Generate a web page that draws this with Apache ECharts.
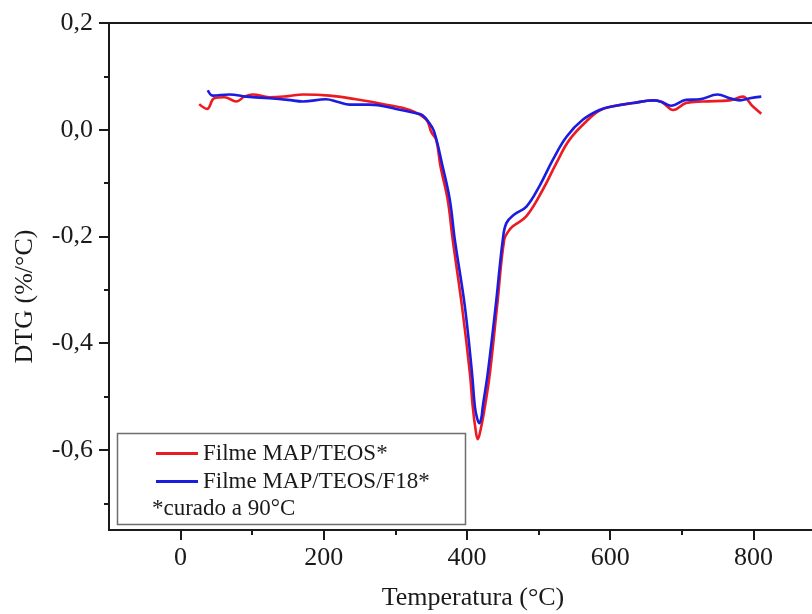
<!DOCTYPE html>
<html>
<head>
<meta charset="utf-8">
<script src="https://cdn.jsdelivr.net/npm/echarts@6/dist/echarts.min.js"></script>
<style>html,body{margin:0;padding:0;background:#fff;}#c{width:812px;height:614px;}</style>
</head>
<body>
<div id="c"></div>
<script>
// ---- data ----
const redName = 'Filme MAP/TEOS*';
const blueName = 'Filme MAP/TEOS/F18*';
const noteText = '*curado a 90°C';

const redX = [26, 37, 47, 61, 78, 89, 101, 124, 150, 171, 208, 245, 287, 320, 343, 350, 357, 363, 373, 380, 393, 404, 408, 412, 415, 419, 425, 432, 442, 452, 458, 464, 483, 506, 525, 543, 567, 585, 604, 632, 660, 672, 688, 706, 729, 767, 785, 799, 811];
const redY = [0.048, 0.039, 0.059, 0.061, 0.053, 0.062, 0.066, 0.061, 0.063, 0.066, 0.064, 0.057, 0.047, 0.037, 0.019, -0.004, -0.019, -0.069, -0.131, -0.206, -0.331, -0.456, -0.519, -0.562, -0.580, -0.562, -0.519, -0.456, -0.331, -0.206, -0.190, -0.181, -0.162, -0.112, -0.062, -0.019, 0.016, 0.036, 0.044, 0.050, 0.055, 0.052, 0.037, 0.050, 0.053, 0.055, 0.062, 0.044, 0.030];

const blueX = [38, 45, 68, 92, 124, 150, 171, 203, 220, 236, 264, 301, 329, 338, 346, 354, 366, 376, 383, 397, 407, 411, 414, 417, 420, 422, 429, 440, 450, 455, 466, 483, 501, 520, 539, 562, 585, 604, 632, 660, 672, 685, 706, 725, 750, 767, 781, 795, 811];
const blueY = [0.074, 0.064, 0.066, 0.062, 0.059, 0.056, 0.053, 0.057, 0.052, 0.047, 0.047, 0.039, 0.031, 0.027, 0.015, -0.003, -0.069, -0.131, -0.206, -0.331, -0.456, -0.519, -0.540, -0.550, -0.540, -0.519, -0.456, -0.331, -0.206, -0.175, -0.159, -0.144, -0.106, -0.056, -0.013, 0.019, 0.037, 0.044, 0.050, 0.055, 0.052, 0.045, 0.056, 0.057, 0.066, 0.059, 0.055, 0.059, 0.062];

const xMajorTicks = [0, 200, 400, 600, 800];
const xMinorTicks = [100, 300, 500, 700];
const yMajorTicks = [0.2, 0.0, -0.2, -0.4, -0.6];
const yMinorTicks = [0.1, -0.1, -0.3, -0.5, -0.7];
const xRange = [-100, 900];
const yRange = [-0.75, 0.2];

// ---- chart ----
const serif = 'Liberation Serif';
const ink = '#1a1a1a';
const redColor = '#ee1a22';
const blueColor = '#1c1ce0';
const pairs = (xs, ys) => xs.map((x, i) => [x, ys[i]]);
const fmtY = v => (Math.abs(v) < 1e-9 ? 0 : v).toFixed(1).replace('.', ',');

const chart = echarts.init(document.getElementById('c'), null, {renderer: 'canvas'});
const baseAxisLine = {show: true, onZero: false, lineStyle: {color: ink, width: 2}};
const option = {
  animation: false,
  backgroundColor: '#fff',
  grid: {left: 109, top: 23, width: 716, height: 507, containLabel: false, outerBoundsMode: 'none',
         show: true, borderColor: ink, borderWidth: 2, backgroundColor: 'transparent'},
  xAxis: [{
    type: 'value', min: xRange[0], max: xRange[1], position: 'bottom',
    axisLine: baseAxisLine,
    axisTick: {show: true, inside: false, length: 10, customValues: xMajorTicks, lineStyle: {color: ink, width: 2}},
    axisLabel: {show: true, customValues: xMajorTicks, fontFamily: serif, fontSize: 26, color: ink, margin: 15},
    splitLine: {show: false},
    name: 'Temperatura (°C)', nameLocation: 'middle', nameGap: 55,
    nameTextStyle: {fontFamily: serif, fontSize: 26, color: ink, padding: [0, 0, 0, 12]}
  }, {
    type: 'value', min: xRange[0], max: xRange[1], position: 'bottom',
    axisLine: {show: false, onZero: false},
    axisTick: {show: true, inside: false, length: 5, customValues: xMinorTicks, lineStyle: {color: ink, width: 2}},
    axisLabel: {show: false},
    splitLine: {show: false}
  }],
  yAxis: [{
    type: 'value', min: yRange[0], max: yRange[1], position: 'left',
    axisLine: baseAxisLine,
    axisTick: {show: true, inside: false, length: 10, customValues: yMajorTicks, lineStyle: {color: ink, width: 2}},
    axisLabel: {show: true, customValues: yMajorTicks, formatter: fmtY, fontFamily: serif, fontSize: 26, color: ink, margin: 16},
    splitLine: {show: false},
    name: 'DTG (%/°C)', nameLocation: 'middle', nameGap: 71,
    nameTextStyle: {fontFamily: serif, fontSize: 26, color: ink, padding: [0, 40, 0, 0]}
  }, {
    type: 'value', min: yRange[0], max: yRange[1], position: 'left',
    axisLine: {show: false, onZero: false},
    axisTick: {show: true, inside: false, length: 5, customValues: yMinorTicks, lineStyle: {color: ink, width: 2}},
    axisLabel: {show: false},
    splitLine: {show: false}
  }],
  legend: {
    show: true, orient: 'vertical', left: 151, top: 437, z: 10,
    itemWidth: 42, itemHeight: 3, itemGap: 5,
    textStyle: {fontFamily: serif, fontSize: 23, color: ink},
    data: [{name: redName, icon: 'rect'}, {name: blueName, icon: 'rect'}]
  },
  graphic: [
    {type: 'rect', left: 115, top: 431, z: 1,
     shape: {width: 348, height: 91}, style: {fill: 'none', stroke: '#6e6e6e', lineWidth: 1.5}},
    {type: 'text', left: 152, top: 497, z: 60,
     style: {text: noteText, font: '23px "Liberation Serif"', fill: ink}}
  ],
  series: [{
    name: redName, type: 'line', data: pairs(redX, redY), xAxisIndex: 0, yAxisIndex: 0,
    symbol: 'none', smooth: 0.4, z: 2,
    lineStyle: {color: redColor, width: 2.6}, itemStyle: {color: redColor}
  }, {
    name: blueName, type: 'line', data: pairs(blueX, blueY), xAxisIndex: 0, yAxisIndex: 0,
    symbol: 'none', smooth: 0.4, z: 3,
    lineStyle: {color: blueColor, width: 2.6}, itemStyle: {color: blueColor}
  }]
};
chart.setOption(option);
</script>
</body>
</html>
